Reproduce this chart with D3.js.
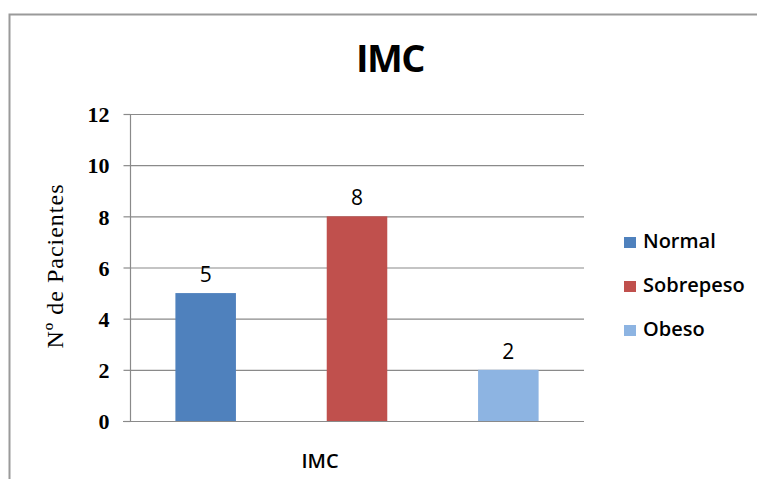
<!DOCTYPE html>
<html>
<head>
<meta charset="utf-8">
<script src="https://cdn.jsdelivr.net/npm/d3@7"></script>
<style>
  html, body { margin: 0; padding: 0; background: #fff; }
  svg { display: block; }
</style>
</head>
<body>
<svg id="chart" width="757" height="479"></svg>
<script>
// Body-mass-index groups and patient counts
const categories = ["Normal", "Sobrepeso", "Obeso"];
const values = [5, 8, 2];
const colors = ["#4F81BD", "#C0504D", "#8DB4E2"];
const yTicks = [0, 2, 4, 6, 8, 10, 12];
const chartTitle = "IMC";
const xTitle = "IMC";
const yTitle = "Nº de Pacientes";

const svg = d3.select("#chart");

// outer chart frame
svg.append("rect")
  .attr("x", 9.5).attr("y", 14.5)
  .attr("width", 800).attr("height", 500)
  .attr("fill", "#fff")
  .attr("stroke", "#9a9a9a")
  .attr("stroke-width", 2);

const plot = { left: 130, right: 584, top: 114, bottom: 421 };

const y = d3.scaleLinear().domain([0, 12]).range([plot.bottom, plot.top]);
const x = d3.scaleBand()
  .domain(categories)
  .range([plot.left, plot.right])
  .paddingInner(0.6)
  .paddingOuter(0.3);

// horizontal gridlines
svg.append("g")
  .selectAll("line")
  .data(yTicks.filter(d => d > 0))
  .join("line")
  .attr("x1", plot.left).attr("x2", plot.right)
  .attr("y1", d => y(d) + 0.5).attr("y2", d => y(d) + 0.5)
  .attr("stroke", "#8a8a8a")
  .attr("stroke-width", 1.2);

// y axis with tick labels
const yAxis = d3.axisLeft(y).tickValues(yTicks).tickSize(7).tickPadding(14).tickFormat(d3.format("d"));
const gy = svg.append("g")
  .attr("transform", `translate(${plot.left + 0.5},0)`)
  .call(yAxis);
gy.select(".domain").attr("stroke", "#8a8a8a").attr("stroke-width", 1.2).attr("d", `M0,${plot.top}V${plot.bottom}`);
gy.selectAll(".tick line").attr("stroke", "#8a8a8a").attr("stroke-width", 1.2);
gy.selectAll(".tick text")
  .attr("fill", "#000")
  .attr("dy", "0.35em")
  .style("font-family", "'Liberation Serif', 'DejaVu Serif', serif")
  .style("font-weight", "bold")
  .style("font-size", "22px");

// bars
svg.append("g")
  .selectAll("rect")
  .data(categories)
  .join("rect")
  .attr("x", d => x(d))
  .attr("y", (d, i) => y(values[i]))
  .attr("width", x.bandwidth())
  .attr("height", (d, i) => y(0) - y(values[i]))
  .attr("fill", (d, i) => colors[i]);

// x axis baseline
svg.append("line")
  .attr("x1", plot.left - 7).attr("x2", plot.right)
  .attr("y1", plot.bottom + 0.5).attr("y2", plot.bottom + 0.5)
  .attr("stroke", "#8a8a8a").attr("stroke-width", 1.2);

// value labels
svg.append("g")
  .selectAll("text")
  .data(categories)
  .join("text")
  .attr("x", d => x(d) + x.bandwidth() / 2)
  .attr("y", (d, i) => y(values[i]) - 11)
  .attr("text-anchor", "middle")
  .style("font-family", "'Open Sans', 'Noto Sans', sans-serif")
  .style("font-weight", "500")
  .style("font-size", "21px")
  .text((d, i) => values[i]);

// chart title
svg.append("text")
  .attr("x", 390).attr("y", 72)
  .attr("text-anchor", "middle")
  .style("font-family", "'Open Sans', 'Noto Sans', sans-serif")
  .style("font-weight", "bold")
  .style("font-size", "38px")
  .style("letter-spacing", "-1.5px")
  .text(chartTitle);

// x axis title
svg.append("text")
  .attr("x", 320).attr("y", 468)
  .attr("text-anchor", "middle")
  .style("font-family", "'Open Sans', 'Noto Sans', sans-serif")
  .style("font-weight", "600")
  .style("font-size", "20px")
  .text(xTitle);

// y axis title
svg.append("text")
  .attr("transform", "translate(63,266) rotate(-90)")
  .attr("text-anchor", "middle")
  .style("font-family", "'Liberation Serif', 'DejaVu Serif', serif")
  .style("font-size", "24px")
  .style("letter-spacing", "1px")
  .text(yTitle);

// legend
const legend = svg.append("g")
  .selectAll("g")
  .data(categories)
  .join("g")
  .attr("transform", (d, i) => `translate(624,${248 + i * 44})`);
legend.append("rect")
  .attr("x", 0).attr("y", -11)
  .attr("width", 12).attr("height", 11)
  .attr("fill", (d, i) => colors[i]);
legend.append("text")
  .attr("x", 19).attr("y", 0)
  .style("font-family", "'Open Sans', 'Noto Sans', sans-serif")
  .style("font-weight", "600")
  .style("font-size", "20px")
  .text(d => d);
</script>
</body>
</html>
